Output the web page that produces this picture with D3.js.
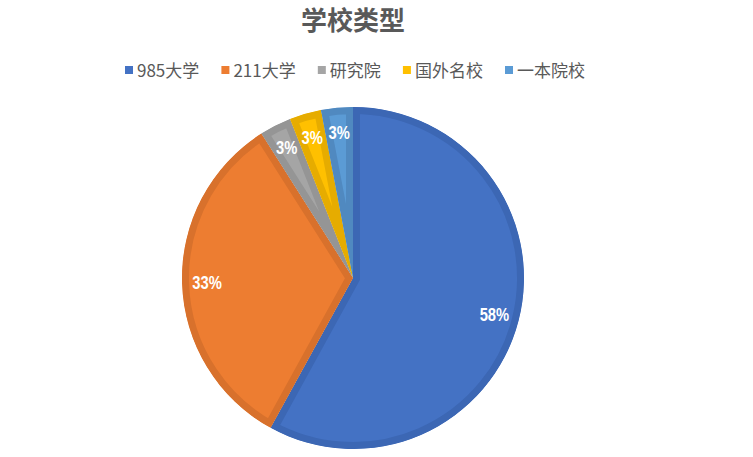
<!DOCTYPE html>
<html><head><meta charset="utf-8">
<script src="https://cdn.jsdelivr.net/npm/d3@7"></script>
<style>body{margin:0;background:#fff}svg{display:block}</style>
</head><body>
<svg id="c" width="753" height="457"></svg>
<script>
const categories = ["985大学", "211大学", "研究院", "国外名校", "一本院校"];
const values = [58, 33, 3, 3, 3];
const fillColors = ["#4472C4", "#ED7D31", "#A5A5A5", "#FFC000", "#5B9BD5"];
const edgeColors = ["#3C67B4", "#D8712C", "#959595", "#E6AC00", "#5089C0"];
const title = "学校类型";

const W = 753, H = 457, cx = 353, cy = 278, R = 171;
const svg = d3.select("#c");
const cjk = "'Noto Sans CJK SC','Noto Sans',sans-serif";

svg.append("text").attr("x", 353).attr("y", 30).attr("text-anchor", "middle")
  .attr("font-family", cjk).attr("font-weight", "bold").attr("font-size", 26)
  .attr("fill", "#595959").text(title);

// legend
const lg = svg.append("g");
let x = 0;
const items = [];
categories.forEach((c, i) => {
  const g = lg.append("g");
  g.append("rect").attr("x", 0).attr("y", 66).attr("width", 8).attr("height", 8).attr("fill", fillColors[i]);
  const t = g.append("text").attr("x", 12).attr("y", 76.5).attr("font-family", cjk)
    .attr("font-size", 17).attr("fill", "#595959").text(c);
  items.push({ g, w: 12 + t.node().getComputedTextLength() });
});
const span = 460, x0 = 125;
const textSum = d3.sum(items, d => d.w);
const gap = (span - textSum) / (items.length - 1);
items.forEach(d => { d.g.attr("transform", `translate(${x0 + x},0)`); x += d.w + gap; });

const pie = d3.pie().sort(null).value(d => d)(values);
const arc = d3.arc().innerRadius(0).outerRadius(R);
const labelArc = d3.arc().innerRadius(146).outerRadius(146);
const pg = svg.append("g").attr("transform", `translate(${cx},${cy})`);
const defs = svg.append("defs");
pie.forEach((p, i) => {
  defs.append("clipPath").attr("id", "cl" + i).append("path").attr("d", arc(p));
  pg.append("path").attr("d", arc(p)).attr("fill", fillColors[i])
    .attr("stroke", edgeColors[i]).attr("stroke-width", 14).attr("stroke-linejoin", "miter")
    .attr("clip-path", `url(#cl${i})`);
});
pie.forEach((p, i) => {
  const [lx, ly] = labelArc.centroid(p);
  pg.append("text").attr("transform", `translate(${lx},${ly}) scale(0.82,1)`)
    .attr("dy", "0.36em").attr("text-anchor", "middle")
    .attr("font-family", "'Liberation Sans',Arial,sans-serif")
    .attr("font-weight", "bold").attr("font-size", 18).attr("fill", "#fff")
    .text(values[i] + "%");
});
</script>
</body></html>
